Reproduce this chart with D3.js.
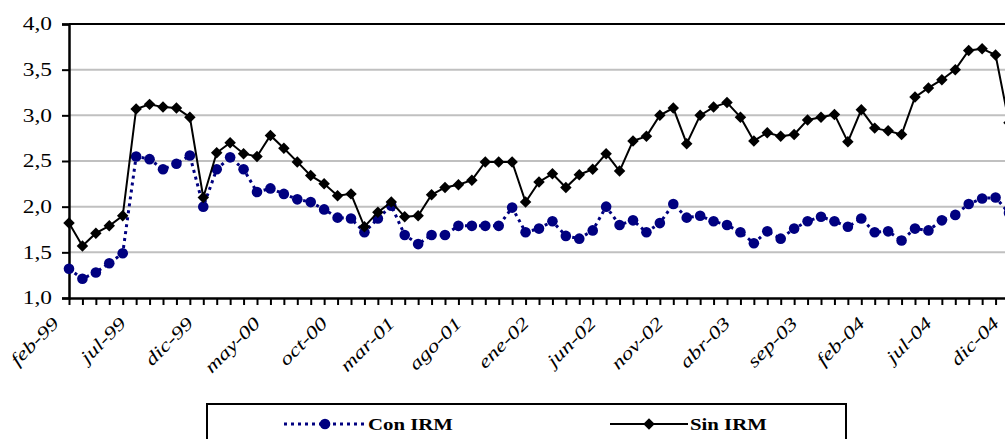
<!DOCTYPE html>
<html>
<head>
<meta charset="utf-8">
<script src="https://cdn.jsdelivr.net/npm/d3@7"></script>
<style>
  body { margin: 0; background: #fff; }
  svg { display: block; }
  .ylab text { font-family: "Liberation Serif", "Times New Roman", serif; font-size: 18px; fill: #000; }
  .xlab text { font-family: "Liberation Serif", "Times New Roman", serif; font-size: 18px; font-style: italic; fill: #000; }
  .legend text { font-family: "Liberation Serif", "Times New Roman", serif; font-size: 17px; font-weight: bold; }
</style>
</head>
<body>
<svg id="chart" width="1005" height="439"></svg>
<script>
var months = [
  "feb-99","mar-99","abr-99","may-99","jun-99","jul-99","ago-99","sep-99","oct-99","nov-99","dic-99",
  "ene-00","feb-00","mar-00","abr-00","may-00","jun-00","jul-00","ago-00","sep-00","oct-00","nov-00","dic-00",
  "ene-01","feb-01","mar-01","abr-01","may-01","jun-01","jul-01","ago-01","sep-01","oct-01","nov-01","dic-01",
  "ene-02","feb-02","mar-02","abr-02","may-02","jun-02","jul-02","ago-02","sep-02","oct-02","nov-02","dic-02",
  "ene-03","feb-03","mar-03","abr-03","may-03","jun-03","jul-03","ago-03","sep-03","oct-03","nov-03","dic-03",
  "ene-04","feb-04","mar-04","abr-04","may-04","jun-04","jul-04","ago-04","sep-04","oct-04","nov-04","dic-04"
];
var tickLabels = ["feb-99","jul-99","dic-99","may-00","oct-00","mar-01","ago-01","ene-02",
  "jun-02","nov-02","abr-03","sep-03","feb-04","jul-04","dic-04"];
var yTicks = [1.0, 1.5, 2.0, 2.5, 3.0, 3.5, 4.0];

var conIRM = [1.32,1.21,1.28,1.38,1.49,2.55,2.52,2.41,2.47,2.56,2.00,
  2.41,2.54,2.41,2.16,2.20,2.14,2.08,2.05,1.97,1.88,1.87,1.72,
  1.87,2.01,1.69,1.59,1.69,1.69,1.79,1.79,1.79,1.79,1.99,1.72,
  1.76,1.84,1.68,1.65,1.74,2.00,1.80,1.85,1.72,1.82,2.03,1.88,
  1.90,1.84,1.80,1.72,1.60,1.73,1.65,1.76,1.84,1.89,1.84,1.78,
  1.87,1.72,1.73,1.63,1.76,1.74,1.85,1.91,2.03,2.09,2.10,1.93];
var sinIRM = [1.82,1.57,1.71,1.79,1.90,3.07,3.12,3.09,3.08,2.98,2.10,
  2.59,2.70,2.58,2.55,2.78,2.64,2.49,2.34,2.25,2.12,2.14,1.78,
  1.94,2.05,1.89,1.90,2.13,2.21,2.24,2.29,2.49,2.49,2.49,2.05,
  2.27,2.36,2.21,2.35,2.41,2.58,2.39,2.72,2.77,3.00,3.08,2.69,
  3.00,3.09,3.14,2.98,2.72,2.81,2.77,2.79,2.95,2.98,3.01,2.71,
  3.06,2.86,2.83,2.79,3.20,3.30,3.39,3.50,3.71,3.73,3.66,2.92];

var svg = d3.select("#chart"),
  plotLeft = 69, plotTop = 24, plotBottom = 298,
  plotRight = 1009, // chart runs past the picture edge, like the original
  stretch = 1.3;    // the source picture's text is wide

var x = d3.scalePoint().domain(months).range([plotLeft, plotRight]);
var y = d3.scaleLinear().domain([1, 4]).range([plotBottom, plotTop]);
var comma = function(d) { return d3.format(".1f")(d).replace(".", ","); };

// grid
svg.append("g")
  .selectAll("line")
  .data(yTicks.slice(1, -1))
  .enter().append("line")
  .attr("x1", plotLeft).attr("x2", 1005)
  .attr("y1", function(d) { return y(d); })
  .attr("y2", function(d) { return y(d); })
  .attr("stroke", "#c0c0c0")
  .attr("stroke-width", 2);

// top frame line
svg.append("line")
  .attr("x1", plotLeft).attr("x2", 1005)
  .attr("y1", plotTop).attr("y2", plotTop)
  .attr("stroke", "#000").attr("stroke-width", 2);

var yAxis = svg.append("g")
  .attr("class", "ylab")
  .attr("transform", "translate(" + plotLeft + ",0)")
  .call(d3.axisLeft(y).tickValues(yTicks).tickSize(7).tickFormat(comma));
yAxis.select(".domain").attr("stroke-width", 2.5);
yAxis.selectAll(".tick line").attr("stroke-width", 2);
yAxis.selectAll(".tick text")
  .attr("x", 0)
  .attr("transform", "translate(-17,0) scale(" + stretch + ",1)");

var xAxis = svg.append("g")
  .attr("class", "xlab")
  .attr("transform", "translate(0," + plotBottom + ")")
  .call(d3.axisBottom(x).tickSize(7).tickSizeOuter(0)
    .tickFormat(function(d) { return tickLabels.indexOf(d) >= 0 ? d : ""; }));
xAxis.select(".domain").attr("stroke-width", 2.5);
xAxis.selectAll(".tick line").attr("stroke-width", 2);
xAxis.selectAll(".tick text")
  .attr("y", 0)
  .attr("text-anchor", "end")
  .attr("dy", "0.35em")
  .attr("transform", "translate(-14,22) rotate(-45) scale(" + stretch + ",1)");

// Con IRM
var lineOf = d3.line()
  .x(function(d, i) { return x(months[i]); })
  .y(function(d) { return y(d); });
svg.append("path")
  .datum(conIRM)
  .attr("d", lineOf)
  .attr("fill", "none")
  .attr("stroke", "#000080")
  .attr("stroke-width", 3)
  .attr("stroke-dasharray", "3,4");
svg.selectAll(".dotCon")
  .data(conIRM)
  .enter().append("circle")
  .attr("class", "dotCon")
  .attr("cx", function(d, i) { return x(months[i]); })
  .attr("cy", function(d) { return y(d); })
  .attr("r", 5.3)
  .attr("fill", "#000080");

// Sin IRM
svg.append("path")
  .datum(sinIRM)
  .attr("d", lineOf)
  .attr("fill", "none")
  .attr("stroke", "#000")
  .attr("stroke-width", 2);
var diamond = d3.symbol().type(d3.symbolSquare).size(66);
svg.selectAll(".dotSin")
  .data(sinIRM)
  .enter().append("path")
  .attr("class", "dotSin")
  .attr("d", diamond)
  .attr("transform", function(d, i) {
    return "translate(" + x(months[i]) + "," + y(d) + ") rotate(45)";
  })
  .attr("fill", "#000");

// legend
var lg = svg.append("g").attr("class", "legend");
lg.append("rect")
  .attr("x", 207).attr("y", 404)
  .attr("width", 639).attr("height", 50)
  .attr("fill", "#fff").attr("stroke", "#000").attr("stroke-width", 2);
lg.append("line")
  .attr("x1", 284).attr("x2", 366).attr("y1", 424).attr("y2", 424)
  .attr("stroke", "#000080").attr("stroke-width", 3).attr("stroke-dasharray", "3,4");
lg.append("circle").attr("cx", 325).attr("cy", 424).attr("r", 5.3).attr("fill", "#000080");
lg.append("text")
  .attr("transform", "translate(368,430) scale(" + stretch + ",1)")
  .style("font-size", "16px").text("Con IRM");
lg.append("line")
  .attr("x1", 610).attr("x2", 688).attr("y1", 424).attr("y2", 424)
  .attr("stroke", "#000").attr("stroke-width", 2);
lg.append("path").attr("d", diamond)
  .attr("transform", "translate(649,424) rotate(45)");
lg.append("text")
  .attr("transform", "translate(690,430) scale(" + stretch + ",1)")
  .style("font-size", "16px").text("Sin IRM");
</script>
</body>
</html>
